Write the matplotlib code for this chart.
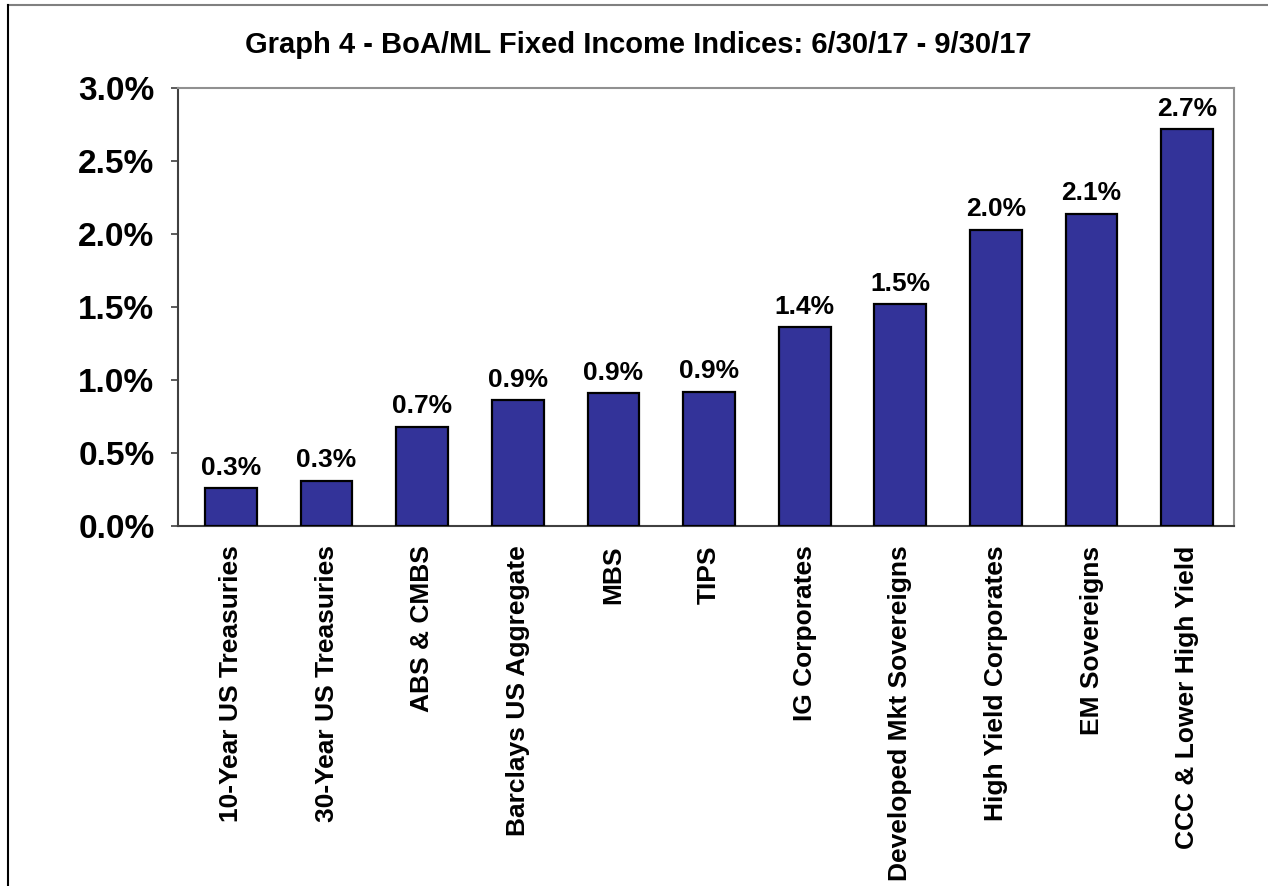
import matplotlib.pyplot as plt
from matplotlib.lines import Line2D
from matplotlib.ticker import FuncFormatter

# Retornos dos índices de renda fixa no trimestre (%)
categorias = ["10-Year US Treasuries", "30-Year US Treasuries", "ABS & CMBS",
              "Barclays US Aggregate", "MBS", "TIPS", "IG Corporates",
              "Developed Mkt Sovereigns", "High Yield Corporates",
              "EM Sovereigns", "CCC & Lower High Yield"]
retornos = [0.26, 0.31, 0.68, 0.86, 0.91, 0.92, 1.36, 1.52, 2.03, 2.14, 2.72]

plt.rcParams['font.family'] = ['Liberation Sans', 'DejaVu Sans']
plt.rcParams['font.weight'] = 'bold'

fig = plt.figure(figsize=(12.68, 8.86), dpi=100)
ax = fig.add_axes([0.1404, 0.4063, 0.8328, 0.4944])

x = range(len(categorias))
ax.bar(x, retornos, width=0.54, color='#333399', edgecolor='black', linewidth=1.6, zorder=3)

for xi, v in zip(x, retornos):
    ax.annotate(f"{v:.1f}%", (xi, v), xytext=(0, 6), textcoords='offset points',
                ha='center', va='bottom', fontsize=19, fontweight='bold')

ax.set_xlim(-0.554, len(categorias) - 0.51)
ax.set_ylim(0, 3.0)
ax.set_yticks([0, 0.5, 1.0, 1.5, 2.0, 2.5, 3.0])
ax.yaxis.set_major_formatter(FuncFormatter(lambda v, p: f"{v:.1f}%"))
ax.tick_params(axis='y', labelsize=24, length=5, width=1.2, color='#404040', pad=12)
ax.set_xticks(list(x))
ax.set_xticklabels(categorias, rotation=90, fontsize=19, fontweight='bold', va='top')
ax.tick_params(axis='x', length=0, pad=14)
for lbl in ax.get_yticklabels():
    lbl.set_fontweight('bold')

for lado in ['top', 'right']:
    ax.spines[lado].set_color('#909090')
    ax.spines[lado].set_linewidth(1.5)
for lado in ['left', 'bottom']:
    ax.spines[lado].set_color('#404040')
    ax.spines[lado].set_linewidth(1.5)

fig.text(0.503, 0.949, "Graph 4 - BoA/ML Fixed Income Indices: 6/30/17 - 9/30/17",
         ha='center', va='center', fontsize=21, fontweight='bold')

# moldura: linha superior cinza e linha esquerda preta
x0, y0 = 8 / 1268, 1 - 5 / 886
fig.add_artist(Line2D([x0, 1.0], [y0, y0], transform=fig.transFigure, color='#808080', linewidth=1.5))
fig.add_artist(Line2D([x0, x0], [0.0, y0], transform=fig.transFigure, color='black', linewidth=1.5))

fig.savefig("out.png", dpi=100)
